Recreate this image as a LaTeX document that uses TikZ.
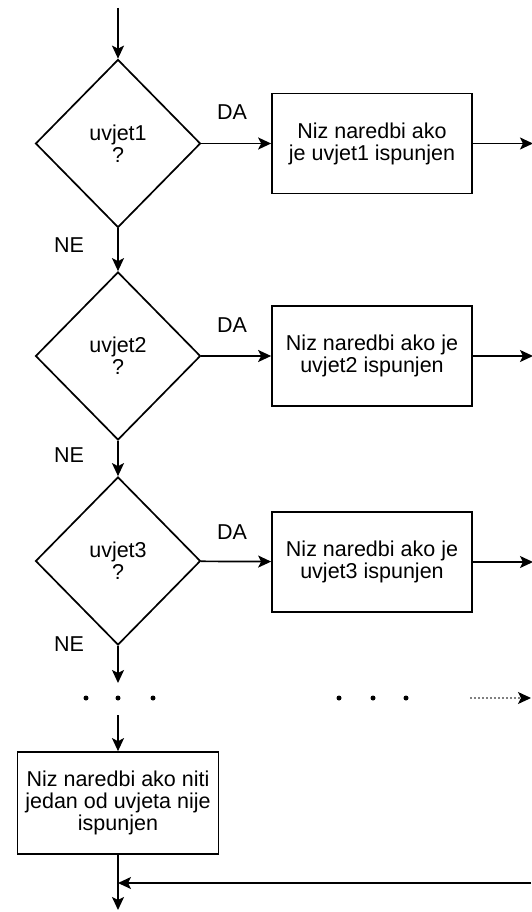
\documentclass[tikz,border=0pt]{standalone}
\usepackage{fontspec}
\setmainfont{Liberation Sans}
\usetikzlibrary{arrows.meta,positioning,shapes.geometric}
\tikzset{dc/.style={draw,diamond,minimum width=165pt,minimum height=168pt,inner sep=0pt,align=center},bx/.style={draw,minimum width=200pt,minimum height=100pt,inner sep=2pt,align=center},arr/.style={-{Stealth[length=13pt,width=12pt,inset=3pt,black]}},dt/.style={circle,fill,inner sep=0pt,minimum size=5pt}}
\begin{document}
\begin{tikzpicture}[x=1pt,y=-1pt,line width=1.7pt,font=\fontsize{21.5}{22}\selectfont]
\useasboundingbox(0,0)rectangle(531,912);
\node[dc](d1)at(118,143.5){uvjet1\\?};\node[bx](b1)at(372,143.5){Niz naredbi ako\\je uvjet1 ispunjen};
\node[dc](d2)at(118,356){uvjet2\\?};\node[bx](b2)at(372,356){Niz naredbi ako je\\uvjet2 ispunjen};
\node[dc](d3)at(118,561){uvjet3\\?};\node[bx](b3)at(372,562){Niz naredbi ako je\\uvjet3 ispunjen};
\node[bx,minimum width=201pt,minimum height=102pt](e)at(118,803){Niz naredbi ako niti\\jedan od uvjeta nije\\ispunjen};
\node(da1)at(232,112){DA};\node(da2)at(232,325){DA};\node(da3)at(232,532){DA};
\node(ne1)at(69,245){NE};\node(ne2)at(69,455){NE};\node(ne3)at(69,644){NE};
\foreach\x[count=\k]in{86,118,153,339,373,406}\node[dt](p\k)at(\x,698){};
\coordinate(in)at(118,8);\coordinate(c1)at(118,683);\coordinate(c2)at(118,715);
\coordinate(c3)at(118,910);\coordinate(r)at(531,883);
\coordinate(q1)at(470,698);\coordinate(q2)at(531,698);
\foreach\i in{1,2,3}{\coordinate(o\i)at(533,0|-b\i);\draw[arr](d\i)--(b\i);\draw[arr](b\i)--(o\i);}
\foreach\a/\b in{in/d1,d1/d2,d2/d3,d3/c1,c2/e,e/c3}\draw[arr](\a)--(\b);
\draw[arr](r)--(e.south|-r);
\draw[arr,gray,line width=1.2pt,dash pattern=on 2pt off 2pt](q1)--(q2);
\end{tikzpicture}
\end{document}
